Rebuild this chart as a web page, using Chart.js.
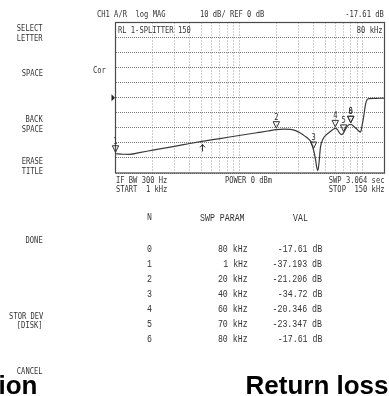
<!DOCTYPE html>
<html>
<head>
<meta charset="utf-8">
<script src="https://cdn.jsdelivr.net/npm/chart.js@4/dist/chart.umd.min.js"></script>
<style>
  html, body { margin: 0; padding: 0; background: #fff; }
  #wrap { position: relative; width: 389px; height: 396px; overflow: hidden; background: #fff; }
  #c { position: absolute; left: 0; top: 0; }
  .t { position: absolute; font: 9px "DejaVu Sans Mono", monospace; line-height: 9px; color: #333;
       white-space: pre; transform: scaleX(0.79); transform-origin: left top; }
  .t.r { transform-origin: right top; }
  .t.tb { font: 11px "Liberation Mono", monospace; line-height: 11px; transform: scaleX(0.75); color: #333; }
  .big { position: absolute; font: bold 26px "Liberation Sans", Arial, sans-serif; line-height: 26px;
         color: #000; white-space: pre; }
</style>
</head>
<body>
<div id="wrap">
  <canvas id="c" width="389" height="396"></canvas>
</div>
<script>
// Swept return-loss trace: frequency (kHz) and magnitude (dB)
const freqKHz = [1, 1.15, 1.3, 1.6, 2, 3, 4, 5, 7, 10, 14, 17, 20, 23, 26, 29, 31, 34, 36.5, 38.5,
                 40, 41.5, 42.5, 43.3, 44.2, 45.5, 48, 51, 54, 57, 60, 62.5, 65, 67.5, 70, 73, 76.5,
                 80, 84, 88, 92, 96, 99, 102, 105, 108, 113, 125, 150];
const magDB = [-37.193, -37.55, -37.6, -36.3, -34.85, -32.3, -30.4, -29.0, -27.1, -25.1, -23.2, -22.1,
               -21.206, -20.9, -21.0, -22.0, -23.3, -25.5, -27.5, -30.0,
               -34.72, -41.0, -46.5, -48.5, -44.0, -33.0, -27.0, -24.5, -22.8, -21.3, -20.346, -21.2,
               -23.5, -24.5, -23.347, -20.5, -18.2,
               -17.61, -18.8, -20.3, -21.8, -22.8, -18.0, -12.0, -5.0, -1.5, -0.6, -0.4, -0.3];

// Marker list
const markerNums = ['0', '1', '2', '3', '4', '5', '6'];
const markerFreqKHz = [80, 1, 20, 40, 60, 70, 80];
const markerDB = [-17.61, -37.193, -21.206, -34.72, -20.346, -23.347, -17.61];

// Log-frequency graticule (kHz) and amplitude graticule (dB)
const gridFreqKHz = [1, 2, 3, 4, 5, 6, 7, 8, 9, 10, 20, 30, 40, 50, 60, 70, 80, 90, 100, 150];
const dbTicks = [-50, -40, -30, -20, -10, 0, 10, 20, 30, 40, 50];
const refLevelDB = 0;
const pointerFreqKHz = 5;

// Soft-key menu
const softKeys = [
  ['SELECT', 25], ['LETTER', 35], ['SPACE', 70], ['BACK', 116], ['SPACE', 125.5],
  ['ERASE', 158], ['TITLE', 168], ['DONE', 237], ['STOR DEV', 313], ['[DISK]', 322], ['CANCEL', 368]
];

const wrap = document.getElementById('wrap');
function addText(str, x, capTop, align, cls) {
  const d = document.createElement('div');
  d.className = 't' + (align === 'right' ? ' r' : '') + (cls ? ' ' + cls : '');
  d.textContent = str;
  d.style.top = (capTop - 1) + 'px';
  if (align === 'right') d.style.right = (389 - x) + 'px';
  else d.style.left = x + 'px';
  wrap.appendChild(d);
}
function addBig(str, x, top) {
  const d = document.createElement('div');
  d.className = 'big';
  d.textContent = str;
  d.style.left = x + 'px';
  d.style.top = top + 'px';
  wrap.appendChild(d);
}

softKeys.forEach(([s, y]) => addText(s, 43, y, 'right'));

// Instrument annotation
addText('CH1 A/R  log MAG', 97, 11, 'left');
addText('10 dB/ REF ' + refLevelDB + ' dB', 200, 11, 'left');
addText(markerDB[0] + ' dB', 384, 11, 'right');
addText('Cor', 93, 67, 'left');
addText('RL 1-SPLITTER 150', 118, 27, 'left');
addText(markerFreqKHz[0] + ' kHz', 383, 27, 'right');
addText('IF BW 300 Hz', 116, 177, 'left');
addText('START  1 kHz', 116, 186, 'left');
addText('POWER 0 dBm', 225, 177, 'left');
addText('SWP 3.064 sec', 384, 177, 'right');
addText('STOP  150 kHz', 384, 186, 'right');

// Marker table
addText('N', 147, 213, 'left', 'tb');
addText('SWP PARAM', 200, 214, 'left', 'tb');
addText('VAL', 293, 214, 'left', 'tb');
markerNums.forEach((n, i) => {
  const y = 245 + i * 15;
  addText(n, 147, y, 'left', 'tb');
  addText(markerFreqKHz[i] + ' kHz', 248, y, 'right', 'tb');
  addText(markerDB[i] + ' dB', 322, y, 'right', 'tb');
});

addBig('ion', -1.5, 372);
addBig('Return loss', 245.5, 372);

// Graticule frame and reference-level pointer
const framePlugin = {
  id: 'frame',
  beforeDatasetsDraw(chart) {
    const { ctx, chartArea: a, scales } = chart;
    ctx.save();
    ctx.strokeStyle = '#4a4a4a';
    ctx.lineWidth = 1.2;
    ctx.strokeRect(a.left, a.top, a.right - a.left, a.bottom - a.top);
    const yr = scales.y.getPixelForValue(refLevelDB);
    ctx.fillStyle = '#222';
    ctx.beginPath();
    ctx.moveTo(a.left - 4, yr - 3.5);
    ctx.lineTo(a.left - 0.5, yr);
    ctx.lineTo(a.left - 4, yr + 3.5);
    ctx.closePath();
    ctx.fill();
    ctx.restore();
  }
};

// Marker symbols with their numbers, plus the arrow pointer
const markerPlugin = {
  id: 'markers',
  afterDatasetsDraw(chart) {
    const { ctx, scales } = chart;
    ctx.save();
    ctx.strokeStyle = '#333';
    ctx.fillStyle = '#333';
    ctx.lineWidth = 1;
    ctx.font = '9px "DejaVu Sans Mono", monospace';
    ctx.textAlign = 'center';
    ctx.textBaseline = 'alphabetic';
    markerNums.forEach((n, i) => {
      const x = scales.x.getPixelForValue(markerFreqKHz[i]);
      const y = scales.y.getPixelForValue(markerDB[i]);
      ctx.beginPath();
      ctx.moveTo(x - 3.2, y - 8);
      ctx.lineTo(x + 3.2, y - 8);
      ctx.lineTo(x, y - 1.5);
      ctx.closePath();
      ctx.stroke();
      ctx.save();
      ctx.translate(x, y - 10);
      ctx.scale(0.79, 1);
      ctx.fillText(n, 0, 0);
      ctx.restore();
    });
    // pointer arrow under the trace
    const px = Math.round(scales.x.getPixelForValue(pointerFreqKHz)) + 0.5;
    const py = scales.y.getPixelForValue(-29.0);
    ctx.beginPath();
    ctx.moveTo(px, py + 3);
    ctx.lineTo(px, py + 10);
    ctx.moveTo(px - 2.5, py + 6);
    ctx.lineTo(px, py + 3);
    ctx.lineTo(px + 2.5, py + 6);
    ctx.stroke();
    ctx.restore();
  }
};

new Chart(document.getElementById('c'), {
  type: 'line',
  data: {
    datasets: [{
      data: freqKHz.map((f, i) => ({ x: f, y: magDB[i] })),
      borderColor: '#3a3a3a',
      borderWidth: 1.2,
      pointRadius: 0,
      cubicInterpolationMode: 'monotone',
      fill: false
    }]
  },
  options: {
    responsive: false,
    animation: false,
    devicePixelRatio: 1,
    layout: { padding: { left: 115.5, top: 22.5, right: 4.5, bottom: 223 } },
    plugins: { legend: { display: false }, tooltip: { enabled: false } },
    scales: {
      x: {
        type: 'logarithmic',
        min: 1,
        max: 150,
        afterBuildTicks(s) { s.ticks = gridFreqKHz.map(v => ({ value: v })); },
        ticks: { display: false },
        grid: { color: '#9a9a9a', lineWidth: 1, drawTicks: false, tickLength: 0 },
        border: { display: false, dash: [1, 2] }
      },
      y: {
        min: -50,
        max: 50,
        afterBuildTicks(s) { s.ticks = dbTicks.map(v => ({ value: v })); },
        ticks: { display: false },
        grid: { color: '#7a7a7a', lineWidth: 1, drawTicks: false, tickLength: 0 },
        border: { display: false, dash: [1, 1] }
      }
    }
  },
  plugins: [framePlugin, markerPlugin]
});
</script>
</body>
</html>
